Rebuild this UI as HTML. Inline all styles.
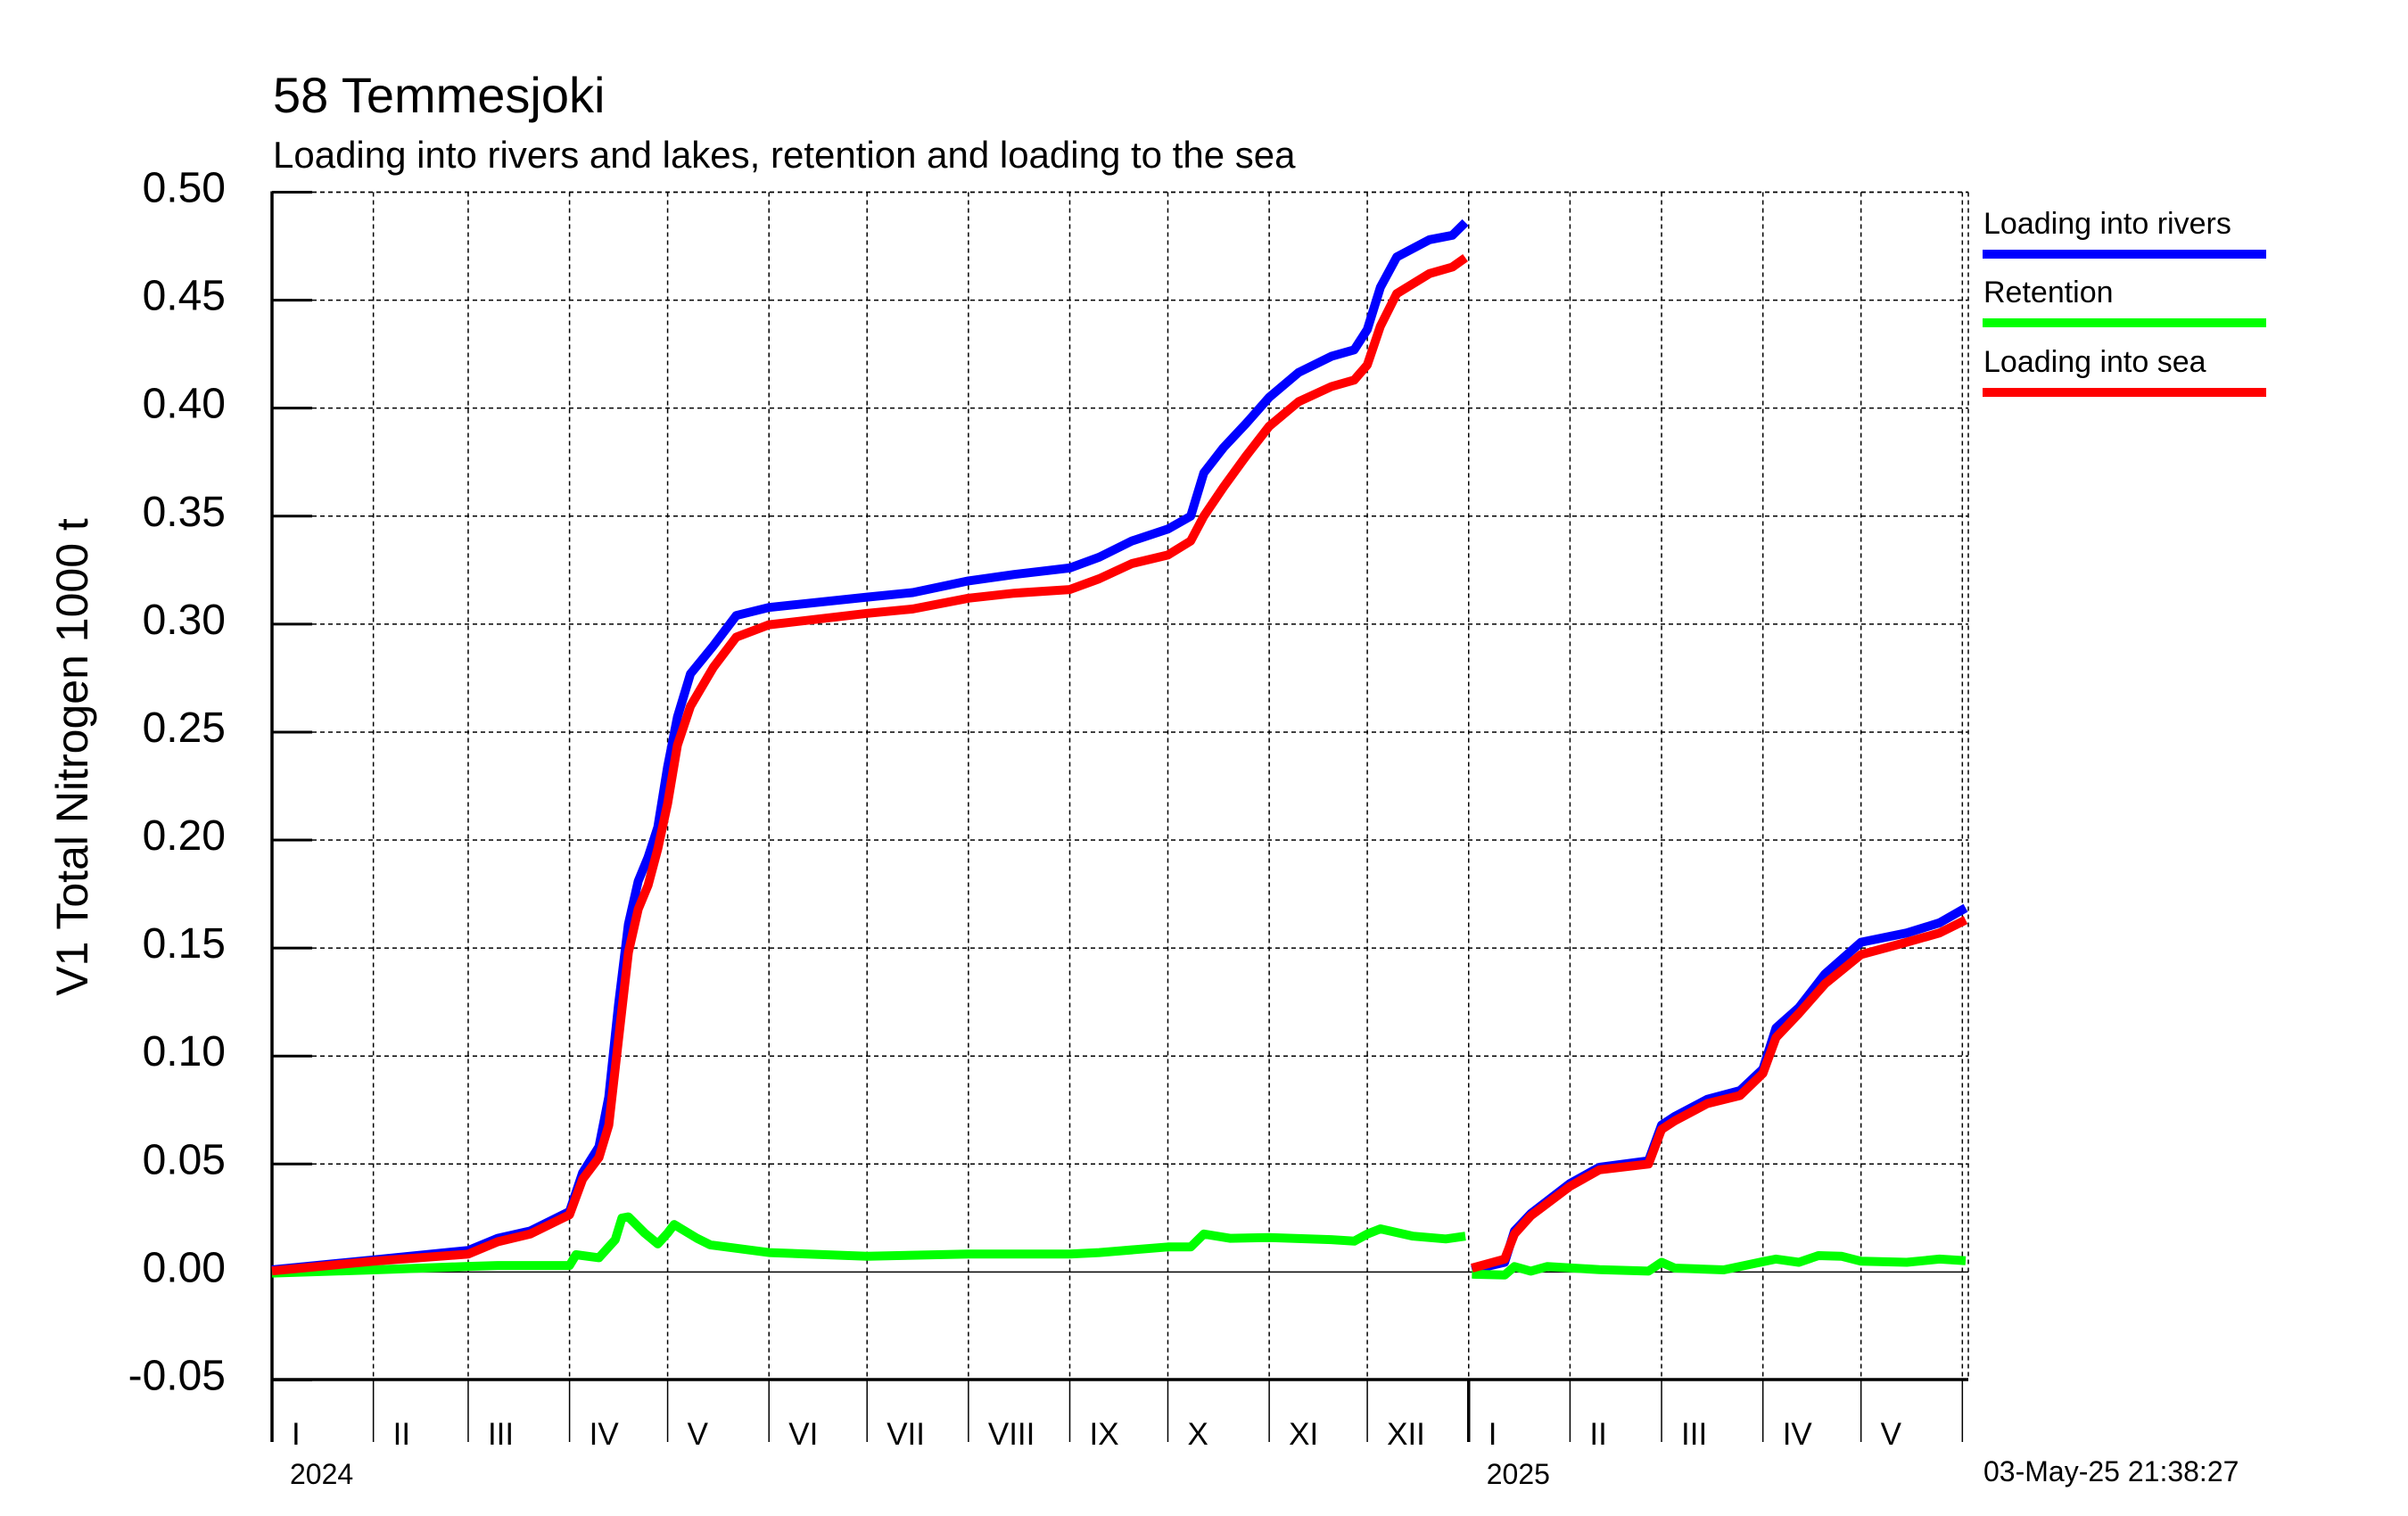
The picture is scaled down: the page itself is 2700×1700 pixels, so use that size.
<!DOCTYPE html>
<html><head><meta charset="utf-8"><style>
html,body{margin:0;padding:0;background:#fff;}
svg{display:block;font-family:"Liberation Sans",Arial,sans-serif;}
</style></head><body>
<svg id="chart" width="2700" height="1700" viewBox="0 0 2700 1700" xmlns="http://www.w3.org/2000/svg">
<rect width="2700" height="1700" fill="#fff"/>
<text x="306" y="126" font-size="56">58 Temmesjoki</text>
<text x="306" y="188" font-size="42">Loading into rivers and lakes, retention and loading to the sea</text>
<text transform="translate(98,849) rotate(-90)" text-anchor="middle" font-size="50">V1 Total Nitrogen 1000 t</text>
<g id="grid"></g>
<g id="axes"></g>
<g id="series"></g>
<g>
<text x="2224" y="262" font-size="34">Loading into rivers</text>
<rect x="2223" y="280" width="318" height="10" fill="#0000ff"/>
<text x="2224" y="339" font-size="34">Retention</text>
<rect x="2223" y="357" width="318" height="10" fill="#00ff00"/>
<text x="2224" y="417" font-size="34">Loading into sea</text>
<rect x="2223" y="435" width="318" height="10" fill="#ff0000"/>
</g>
<text x="2224" y="1661" font-size="32">03-May-25 21:38:27</text>
</svg>
<script>
const yTicks = [0.50,0.45,0.40,0.35,0.30,0.25,0.20,0.15,0.10,0.05,0.00,-0.05];
const yTickLabels = ["0.50","0.45","0.40","0.35","0.30","0.25","0.20","0.15","0.10","0.05","0.00","-0.05"];
const monthStarts = [0,31,60,91,121,152,182,213,244,274,305,335,366,397,425,456,486,517];
const monthLabels = ["I","II","III","IV","V","VI","VII","VIII","IX","X","XI","XII","I","II","III","IV","V",""];
const yearStarts = [0,366];
const yearLabels = ["2024","2025"];

const days2024 = [0,31,60,69,79,91,95,100,103,106,109,112,115,118,121,124,128,135,142,152,182,196,213,227,244,253,263,274,281,285,291,298,305,314,324,331,335,339,344,354,361,365];
const rivers2024 = [0.001,0.0056,0.010,0.0156,0.019,0.028,0.046,0.058,0.081,0.124,0.161,0.181,0.192,0.206,0.234,0.257,0.277,0.290,0.304,0.3077,0.3125,0.3146,0.320,0.323,0.326,0.331,0.3385,0.344,0.350,0.370,0.3817,0.393,0.405,0.4165,0.424,0.427,0.4364,0.456,0.470,0.478,0.480,0.486];
const sea2024 = [0.0005,0.005,0.0083,0.014,0.0176,0.0265,0.043,0.053,0.068,0.108,0.148,0.168,0.179,0.196,0.217,0.244,0.262,0.280,0.294,0.2997,0.305,0.307,0.312,0.3143,0.316,0.321,0.328,0.332,0.3385,0.350,0.3634,0.378,0.3916,0.403,0.410,0.413,0.420,0.438,0.453,0.4623,0.4653,0.4696];
const retDays2024 = [0,31,60,69,91,93,100,105,107,109,114,118,121,123,130,134,152,182,213,244,253,274,281,285,293,305,324,331,335,339,349,359,365];
const retention2024 = [-0.0005,0.001,0.0026,0.003,0.003,0.008,0.0066,0.015,0.025,0.0255,0.018,0.013,0.018,0.022,0.0156,0.0126,0.009,0.0073,0.0083,0.0083,0.009,0.0116,0.0116,0.0176,0.0156,0.016,0.015,0.0143,0.0176,0.020,0.0166,0.0153,0.0166];

const days2025 = [367,377,380,385,397,406,421,425,429,439,449,456,460,467,475,486,500,510,518];
const rivers2025 = [0.001,0.0045,0.019,0.027,0.041,0.0485,0.0515,0.068,0.072,0.080,0.084,0.094,0.113,0.1224,0.138,0.1527,0.157,0.1617,0.1686];
const sea2025 = [0.0018,0.006,0.0176,0.026,0.0397,0.0473,0.050,0.066,0.070,0.078,0.0817,0.092,0.1086,0.1197,0.1334,0.147,0.1527,0.157,0.163];
const retDays2025 = [367,377,380,385,390,406,421,425,429,444,456,460,467,473,480,486,500,510,518];
const retention2025 = [-0.001,-0.0014,0.0025,0.0004,0.0025,0.0011,0.0004,0.0045,0.0018,0.001,0.0048,0.006,0.0045,0.0076,0.0073,0.005,0.0045,0.006,0.0052];

const NS = "http://www.w3.org/2000/svg";
const X0 = 305, PXDAY = 3.666, XR = 2207;
const Y0 = 1426.4, PXUNIT = 2421.8, YTOP = 215.5, YBOT = 1547, YLOW = 1617;
function xs(d){ return X0 + d*PXDAY; }
function ys(v){ return Y0 - v*PXUNIT; }
function mk(tag, attrs, parent){
  const el = document.createElementNS(NS, tag);
  for (const k in attrs) el.setAttribute(k, attrs[k]);
  parent.appendChild(el);
  return el;
}
const grid = document.getElementById('grid');
const axes = document.getElementById('axes');
const series = document.getElementById('series');

// horizontal grid + ticks + labels
yTicks.forEach((v,i)=>{
  const y = ys(v);
  if (v > -0.04 && Math.abs(v) > 1e-9) {
    const g = mk('line',{x1:X0,x2:XR,y1:y,y2:y,stroke:'#000','stroke-width':1.5,'stroke-dasharray':'5,4'},grid);
    
    
  }
  if (Math.abs(v) < 1e-9) {
    const z = mk('line',{x1:X0,x2:XR,y1:y,y2:y,stroke:'#000','stroke-width':1.5},grid);
    
    
  }
  const t = mk('line',{x1:X0,x2:X0+45,y1:y,y2:y,stroke:'#000','stroke-width':3},axes);
  
  
  const lb = mk('text',{x:253,y:y+11,'text-anchor':'end','font-size':48},axes);
  lb.textContent = yTickLabels[i];
  
  
});
// month lines
monthStarts.forEach((d,i)=>{
  const x = xs(d);
  if (d>0) {
    const g = mk('line',{x1:x,x2:x,y1:YTOP,y2:YBOT,stroke:'#000','stroke-width':1.5,'stroke-dasharray':'5,4'},grid);
    
    
    const isYear = yearStarts.indexOf(d) >= 0;
    const b = mk('line',{x1:x,x2:x,y1:YBOT,y2:YLOW,stroke:'#000','stroke-width':isYear?3.5:1.5},axes);
    
    
  }
  if (monthLabels[i]) {
    const t = mk('text',{x:x+22,y:1620,'font-size':35},axes);
    t.textContent = monthLabels[i];
    
    
  }
});
yearStarts.forEach((d,i)=>{
  const t = mk('text',{x:xs(d)+20,y:1664,'font-size':32},axes);
  t.textContent = yearLabels[i];
  
  
});
// borders
const topB = mk('line',{x1:X0,x2:XR,y1:YTOP,y2:YTOP,stroke:'#000','stroke-width':1.5,'stroke-dasharray':'5,4'},grid);


const rightB = mk('line',{x1:XR,x2:XR,y1:YTOP,y2:YBOT,stroke:'#000','stroke-width':1.5,'stroke-dasharray':'5,4'},grid);


const xAxis = mk('line',{x1:X0,x2:XR,y1:YBOT,y2:YBOT,stroke:'#000','stroke-width':3.5},axes);


const yAxis = mk('line',{x1:X0,x2:X0,y1:YTOP-1,y2:YLOW,stroke:'#000','stroke-width':3.5},axes);



function drawLine(days, vals, color, name){
  const pts = days.map((d,i)=>xs(d).toFixed(1)+','+ys(vals[i]).toFixed(1)).join(' ');
  const p = mk('polyline',{points:pts,fill:'none',stroke:color,'stroke-width':10,'stroke-linejoin':'round','stroke-linecap':'butt'},series);
  
  
}
drawLine(days2024, rivers2024, '#0000ff', 'rivers-line-2024');
drawLine(days2025, rivers2025, '#0000ff', 'rivers-line-2025');
drawLine(retDays2024, retention2024, '#00ff00', 'retention-line-2024');
drawLine(retDays2025, retention2025, '#00ff00', 'retention-line-2025');
drawLine(days2024, sea2024, '#ff0000', 'sea-line-2024');
drawLine(days2025, sea2025, '#ff0000', 'sea-line-2025');
</script>
</body></html>
